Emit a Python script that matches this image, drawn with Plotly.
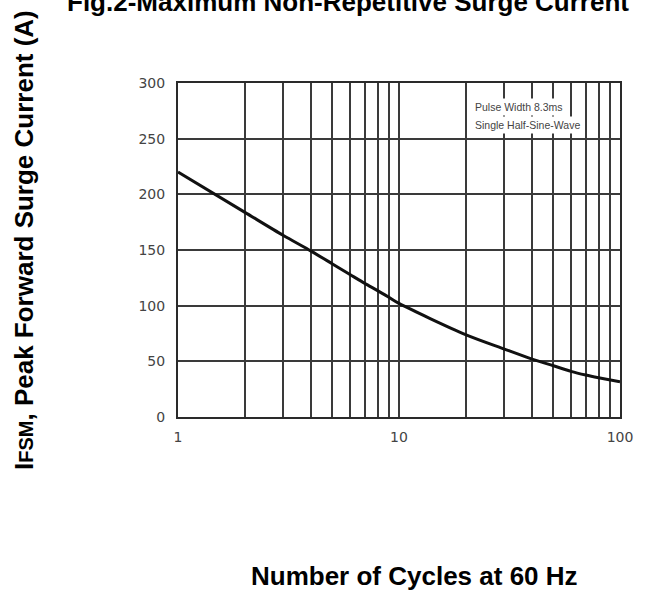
import plotly.graph_objects as go

cycles = [1, 2, 3, 4, 5, 6, 7, 8, 9, 10, 20, 30, 40, 50, 60, 70, 80, 100]
current = [220, 184, 163, 149, 137.5, 128, 120, 113.5, 107.5, 102, 74, 61, 52, 46, 41, 37.7, 35.3, 31.7]

x_grid = [1, 2, 3, 4, 5, 6, 7, 8, 9, 10, 20, 30, 40, 50, 60, 70, 80, 90, 100]
x_labels = ["1", "", "", "", "", "", "", "", "", "10", "", "", "", "", "", "", "", "", "100"]
y_ticks = [0, 50, 100, 150, 200, 250, 300]

W, H = 646, 595
L, R, T, B = 178, 26, 83, 178
pw, ph = W - L - R, H - T - B


def px(xp):
    return (xp - L) / pw


def py(yp):
    return (H - B - yp) / ph


fig = go.Figure()
fig.add_trace(go.Scatter(x=cycles, y=current, mode="lines",
                         line=dict(color="#111", width=3, shape="spline", smoothing=0.8),
                         hoverinfo="skip"))

fig.update_layout(
    width=W, height=H,
    margin=dict(l=L, r=R, t=T, b=B),
    paper_bgcolor="white", plot_bgcolor="white",
    showlegend=False,
    font=dict(family="Arial, Liberation Sans, sans-serif", color="#333"),
)
tickfont = dict(size=14, color="#444", family="DejaVu Sans, sans-serif")
fig.update_xaxes(type="log", range=[0, 2], tickvals=x_grid, ticktext=x_labels,
                 showgrid=True, gridcolor="#3a3a3a", gridwidth=2,
                 showline=True, linecolor="#2a2a2a", linewidth=2, mirror=True,
                 ticks="", ticklabelstandoff=6, tickfont=tickfont,
                 zeroline=False)
fig.update_yaxes(range=[0, 300], tickvals=y_ticks,
                 showgrid=True, gridcolor="#3a3a3a", gridwidth=2,
                 showline=True, linecolor="#2a2a2a", linewidth=2, mirror=True,
                 ticks="", ticklabelstandoff=8, tickfont=tickfont,
                 zeroline=False)

# note box (two lines, each with its own white background)
fig.add_annotation(text="Pulse Width 8.3ms",
                   xref="paper", yref="paper", x=px(472), y=py(107), xanchor="left", yanchor="middle",
                   showarrow=False, bgcolor="white", borderpad=2,
                   font=dict(size=10.5, color="#444"))
fig.add_annotation(text="Single Half-Sine-Wave",
                   xref="paper", yref="paper", x=px(472), y=py(125), xanchor="left", yanchor="middle",
                   showarrow=False, bgcolor="white", borderpad=2,
                   font=dict(size=10.5, color="#444"))

# chart title (clipped at the top like the reference)
fig.add_annotation(text="<b>Fig.2-Maximum Non-Repetitive Surge Current</b>",
                   xref="paper", yref="paper", x=px(65), y=py(2), xanchor="left", yanchor="middle",
                   showarrow=False, font=dict(size=26, color="black"))
# y-axis title
fig.add_annotation(text="<b>I<span style='font-size:20px'>FSM</span>, Peak Forward Surge Current (A)</b>",
                   xref="paper", yref="paper", x=px(24), y=py(240), textangle=-90,
                   xanchor="center", yanchor="middle", showarrow=False,
                   font=dict(size=26, color="black"))
# x-axis title
fig.add_annotation(text="<b>Number of Cycles at 60 Hz</b>",
                   xref="paper", yref="paper", x=px(414), y=py(576), xanchor="center", yanchor="middle",
                   showarrow=False, font=dict(size=26, color="black"))

fig.write_html("out.html", config={"displayModeBar": False, "staticPlot": True},
               post_script="document.body.style.margin='0';document.body.style.overflow='hidden';")
